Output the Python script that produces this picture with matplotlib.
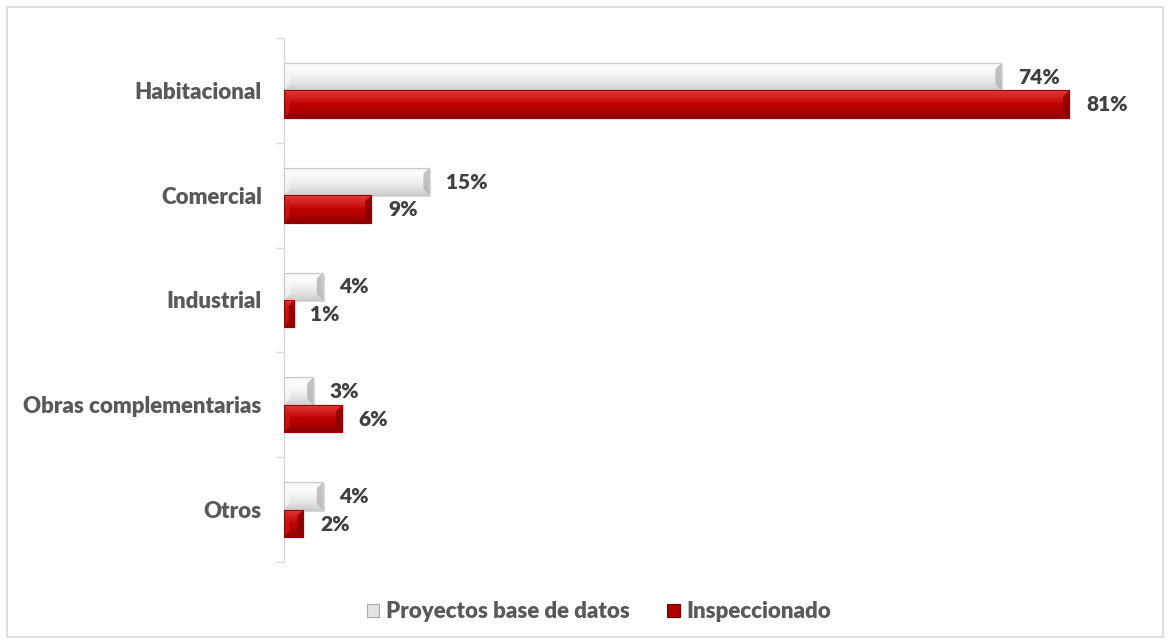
import matplotlib
matplotlib.use("Agg")
import numpy as np
import matplotlib.pyplot as plt
from matplotlib.patches import Patch, Rectangle, Polygon
from matplotlib.colors import LinearSegmentedColormap

categories = ["Habitacional", "Comercial", "Industrial", "Obras complementarias", "Otros"]
series_names = ["Proyectos base de datos", "Inspeccionado"]
proyectos = [74, 15, 4, 3, 4]
inspeccionado = [81, 9, 1, 6, 2]

FONT = ['Lato', 'DejaVu Sans']
plt.rcParams['font.family'] = FONT
W = "heavy"

fig = plt.figure(figsize=(11.70, 6.44), dpi=100)
ax = fig.add_axes([284/1170, 1-562/644, (1140-284)/1170, (562-38)/644])
XMAX = 88.3
ax.set_xlim(0, XMAX)
ax.set_ylim(len(categories) - 0.5, -0.5)

h = 0.262
ypos = np.arange(len(categories))

grads = [
    ["#f4f4f4", "#fdfdfd", "#f2f2f2", "#e4e4e4", "#cfcfcf"],
    ["#e03838", "#d42222", "#c00000", "#ab0000", "#8e0000"],
]
ends = [("#fafafa", "#b0b0b0"), ("#d21c1c", "#7a0000")]
edges = ["#c8c8c8", "#9a0000"]
offsets = [-h/2, h/2]
data = [proyectos, inspeccionado]

px_x = XMAX / 856.0
px_y = 5.0 / 524.0
bev_px = 6
for k, (vals, off, g, (lc, rc), ec) in enumerate(zip(data, offsets, grads, ends, edges)):
    cmap = LinearSegmentedColormap.from_list("g", g)
    if k == 0:
        ax.barh(ypos + off + 2 * px_y, vals, left=2 * px_x, height=h, color="#d0d0d0",
                linewidth=0, zorder=1.5, alpha=0.7)
    bars = ax.barh(ypos + off, vals, height=h, color=g[2], edgecolor=ec, linewidth=0.8, zorder=2)
    grad = np.linspace(0, 1, 64).reshape(-1, 1)
    for p, v in zip(bars.patches, vals):
        x0, y0 = p.get_x(), p.get_y()
        x1, y1 = x0 + p.get_width(), y0 + p.get_height()
        im = ax.imshow(grad, cmap=cmap, aspect="auto", extent=(x0, x1, y1, y0),
                       origin="upper", zorder=3, interpolation="bilinear")
        im.set_clip_path(p)
        bx = min(bev_px * px_x, (x1 - x0) / 2)
        by = (y1 - y0) * 0.22
        ax.add_patch(Polygon([(x1, y0), (x1, y1), (x1 - bx, y1 - by), (x1 - bx, y0 + by)],
                             closed=True, facecolor=rc, edgecolor="none", alpha=0.75, zorder=4))
        ax.add_patch(Polygon([(x0, y0), (x0, y1), (x0 + bx, y1 - by), (x0 + bx, y0 + by)],
                             closed=True, facecolor=lc, edgecolor="none", alpha=0.6, zorder=4))
        ax.add_patch(Rectangle((x0, y0), x1 - x0, y1 - y0, fill=False, edgecolor=ec,
                               linewidth=0.8, zorder=5))
    for y, v in zip(ypos + off, vals):
        ax.annotate(f"{v}%", xy=(v, y), xytext=(12, -0.5), textcoords="offset points",
                    ha="left", va="center", fontsize=15, fontweight=W, color="#404040", zorder=6)

ax.set_xticks([])
ax.set_yticks(ypos)
ax.set_yticklabels(categories, fontsize=16, fontweight=W, color="#595959")
ax.tick_params(axis="y", which="major", length=0, pad=16)
ax.set_yticks([y - 0.5 for y in range(len(categories) + 1)], minor=True)
ax.tick_params(axis="y", which="minor", length=6, color="#d9d9d9", width=1)
for s in ["top", "right", "bottom"]:
    ax.spines[s].set_visible(False)
ax.spines["left"].set_color("#d9d9d9")
ax.spines["left"].set_linewidth(1)

handles = [Patch(facecolor="#e4e4e4", edgecolor="#a8a8a8", linewidth=0.8),
           Patch(facecolor="#b00000", edgecolor="#6a0000", linewidth=0.8)]
leg = fig.legend(handles, series_names, loc="center", bbox_to_anchor=(0.512, 1-612/644),
                 ncol=2, frameon=False, handlelength=0.55, handleheight=0.55,
                 handletextpad=0.3, columnspacing=1.7,
                 prop=dict(family=FONT, size=16, weight=W))
for t in leg.get_texts():
    t.set_color("#595959")

fig.patches.append(Rectangle((7/1170, 7/644), 1156/1170, 630/644, transform=fig.transFigure,
                             fill=False, edgecolor="#d9d9d9", linewidth=1.2, zorder=0))

fig.savefig("out.png", dpi=100)
